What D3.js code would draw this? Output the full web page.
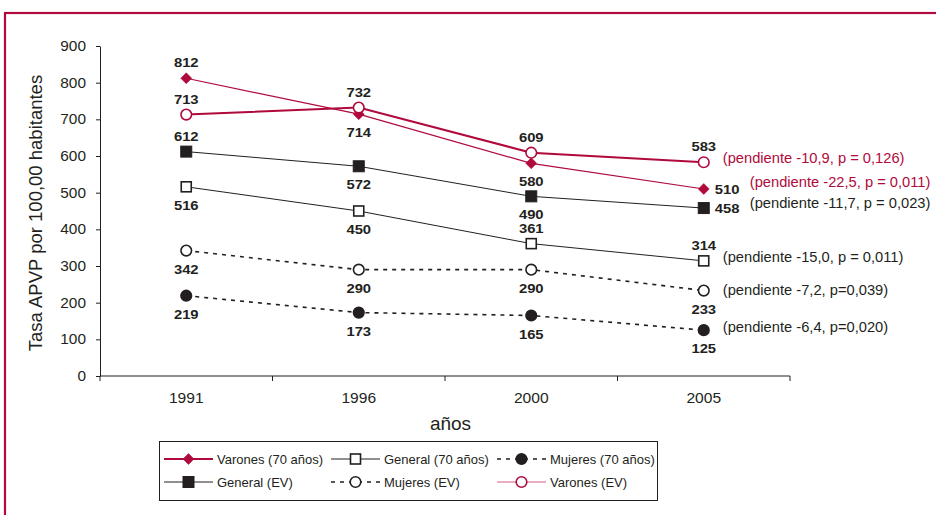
<!DOCTYPE html>
<html><head><meta charset="utf-8">
<script src="https://cdn.jsdelivr.net/npm/d3@7"></script>
<style>body{margin:0;background:#fff;font-family:"Liberation Sans",Arial,sans-serif;}</style>
</head><body>
<svg id="c" width="936" height="515" font-family="Liberation Sans, Arial, sans-serif"></svg>
<script>
const years = ["1991","1996","2000","2005"];
const yTicks = [0,100,200,300,400,500,600,700,800,900];
const varones70 = [812,714,580,510];
const varonesEV = [713,732,609,583];
const generalEV = [612,572,490,458];
const general70 = [516,450,361,314];
const mujeresEV = [342,290,290,233];
const mujeres70 = [219,173,165,125];
// label placement per point: "a" above, "b" below, "r" right
const varones70Pos = ["a","b","b","r"];
const varonesEVPos = ["a","a","a","a"];
const generalEVPos = ["a","b","b","r"];
const general70Pos = ["b","b","a","a"];
const mujeresEVPos = ["b","b","b","b"];
const mujeres70Pos = ["b","b","b","b"];
const slopeTexts = ["(pendiente -10,9, p = 0,126)","(pendiente -22,5, p = 0,011)","(pendiente -11,7, p = 0,023)","(pendiente -15,0, p = 0,011)","(pendiente -7,2, p=0,039)","(pendiente -6,4, p=0,020)"];
const legendNames = ["Varones (70 años)","General (70 años)","Mujeres (70 años)","General (EV)","Mujeres (EV)","Varones (EV)"];

const RED = "#b0093b", BLK = "#231f20";
const svg = d3.select("#c");
svg.append("rect").attr("x",5).attr("y",13).attr("width",1000).attr("height",600)
  .attr("fill","none").attr("stroke",RED).attr("stroke-width",2.2);

function txt(parent, x, y, s, o){
  const g = parent.append("g").attr("transform",`translate(${x},${y}) scale(${o.sx||1},1)`);
  return g.append("text").attr("text-anchor",o.anchor||"start").attr("font-size",o.size)
    .attr("font-weight",o.weight||"normal").attr("fill",o.fill||BLK).text(s);
}

const x = d3.scaleBand().domain(years).range([100,790]).padding(0);
const y = d3.scaleLinear().domain([0,900]).range([376,46]);
const cx = d => x(d) + x.bandwidth()/2;

// y axis
const ySX = 1.1;
const ya = svg.append("g").attr("transform","translate(100,0)")
  .call(d3.axisLeft(y).tickValues(yTicks).tickSize(4).tickSizeOuter(0).tickPadding(10));
ya.select(".domain").attr("stroke",BLK);
ya.selectAll(".tick line").attr("stroke",BLK);
ya.selectAll("text").attr("font-size",14).attr("fill",BLK)
  .attr("x",-14/ySX).attr("transform",`scale(${ySX},1)`);

// x axis
const xa = svg.append("g").attr("transform","translate(0,376)")
  .call(d3.axisBottom(x).tickSize(0).tickSizeOuter(0).tickPadding(16));
xa.select(".domain").attr("stroke",BLK).attr("d","M100,0H790");
xa.selectAll("text").attr("font-size",15).attr("fill",BLK).attr("transform","scale(1.04,1)");
const edges = years.map(d=>x(d)).concat([x.range()[1]]);
xa.selectAll(".edge").data(edges).enter().append("line")
  .attr("x1",d=>d).attr("x2",d=>d).attr("y1",0).attr("y2",5).attr("stroke",BLK);

txt(svg, 450.5, 430, "años", {size:19, anchor:"middle"});
svg.append("text").attr("transform","translate(42,213) rotate(-90)").attr("text-anchor","middle")
  .attr("font-size",18.5).attr("fill",BLK).text("Tasa APVP por 100,00 habitantes");

const series = [
  {vals:general70, pos:general70Pos, color:BLK, w:1, dash:null, m:"sq", fill:"#fff"},
  {vals:generalEV, pos:generalEVPos, color:BLK, w:1, dash:null, m:"sq", fill:BLK},
  {vals:mujeresEV, pos:mujeresEVPos, color:BLK, w:1.6, dash:"4,5", m:"ci", fill:"#fff"},
  {vals:mujeres70, pos:mujeres70Pos, color:BLK, w:1.6, dash:"4,5", m:"ci", fill:BLK},
  {vals:varones70, pos:varones70Pos, color:RED, w:1.2, dash:null, m:"di", fill:RED},
  {vals:varonesEV, pos:varonesEVPos, color:RED, w:2, dash:null, m:"ci", fill:"#fff"},
];
const line = d3.line().x((d,i)=>cx(years[i])).y(d=>y(d));

function marker(g, type, px, py, color, fill){
  if(type==="sq"){
    const s = fill==="#fff"?10:11;
    g.append("rect").attr("x",px-s/2).attr("y",py-s/2).attr("width",s).attr("height",s)
      .attr("fill",fill).attr("stroke",color).attr("stroke-width",fill==="#fff"?1.6:1);
  } else if(type==="ci"){
    g.append("circle").attr("cx",px).attr("cy",py).attr("r",5.3)
      .attr("fill",fill).attr("stroke",color).attr("stroke-width",1.6);
  } else {
    const r=5.5;
    g.append("path").attr("d",`M${px},${py-r}L${px+r},${py}L${px},${py+r}L${px-r},${py}Z`)
      .attr("fill",fill).attr("stroke",color).attr("stroke-width",0.5);
  }
}

series.forEach(s=>{
  svg.append("path").attr("d",line(s.vals)).attr("fill","none").attr("stroke",s.color)
    .attr("stroke-width",s.w).attr("stroke-dasharray",s.dash);
});
series.forEach(s=>{
  const g = svg.append("g");
  s.vals.forEach((v,i)=>{
    const px = cx(years[i]), py = y(v);
    marker(g, s.m, px, py, s.color, s.fill);
    const p = s.pos[i];
    const o = {size:13, weight:"bold", sx:1.14};
    if(p==="a") txt(g, px, py-11, v, Object.assign({anchor:"middle"},o));
    else if(p==="b") txt(g, px, py+23, v, Object.assign({anchor:"middle"},o));
    else txt(g, px+11, py+4.5, v, Object.assign({anchor:"start"},o));
  });
});

// slope annotations
const slopeSeries = [varonesEV, varones70, generalEV, general70, mujeresEV, mujeres70];
const slopeColors = [RED, RED, BLK, BLK, BLK, BLK];
const slopeDx = [19, 46, 46, 19, 19, 19];
const slopeOff = [0.5, -2.3, 0.3, 1, 4.5, 2];
slopeTexts.forEach((t,i)=>{
  const v = slopeSeries[i][3];
  txt(svg, cx("2005")+slopeDx[i], y(v)+slopeOff[i], t, {size:14, sx:1.05, fill:slopeColors[i]});
});

// legend
const lg = svg.append("g");
lg.append("rect").attr("x",159.5).attr("y",441.5).attr("width",498).attr("height",59)
  .attr("fill","#fff").attr("stroke",BLK).attr("stroke-width",1);
const legendSeries = [series[4], series[0], series[3], series[1], series[2], series[5]];
const legendStroke = ["#b0093b", BLK, BLK, BLK, BLK, "#d4607f"];
const legendW = [2, 1, 1.6, 1, 1.6, 1.2];
const colX = [164, 331, 497];
const rowY = [459, 482];
legendNames.forEach((n,i)=>{
  const s = legendSeries[i];
  const lx = colX[i%3], ly = rowY[Math.floor(i/3)];
  lg.append("line").attr("x1",lx).attr("x2",lx+49).attr("y1",ly).attr("y2",ly)
    .attr("stroke",legendStroke[i]).attr("stroke-width",legendW[i]).attr("stroke-dasharray",s.dash);
  marker(lg, s.m, lx+24.5, ly, s.color, s.fill);
  txt(lg, lx+53, ly+5, n, {size:13});
});
</script>
</body></html>
